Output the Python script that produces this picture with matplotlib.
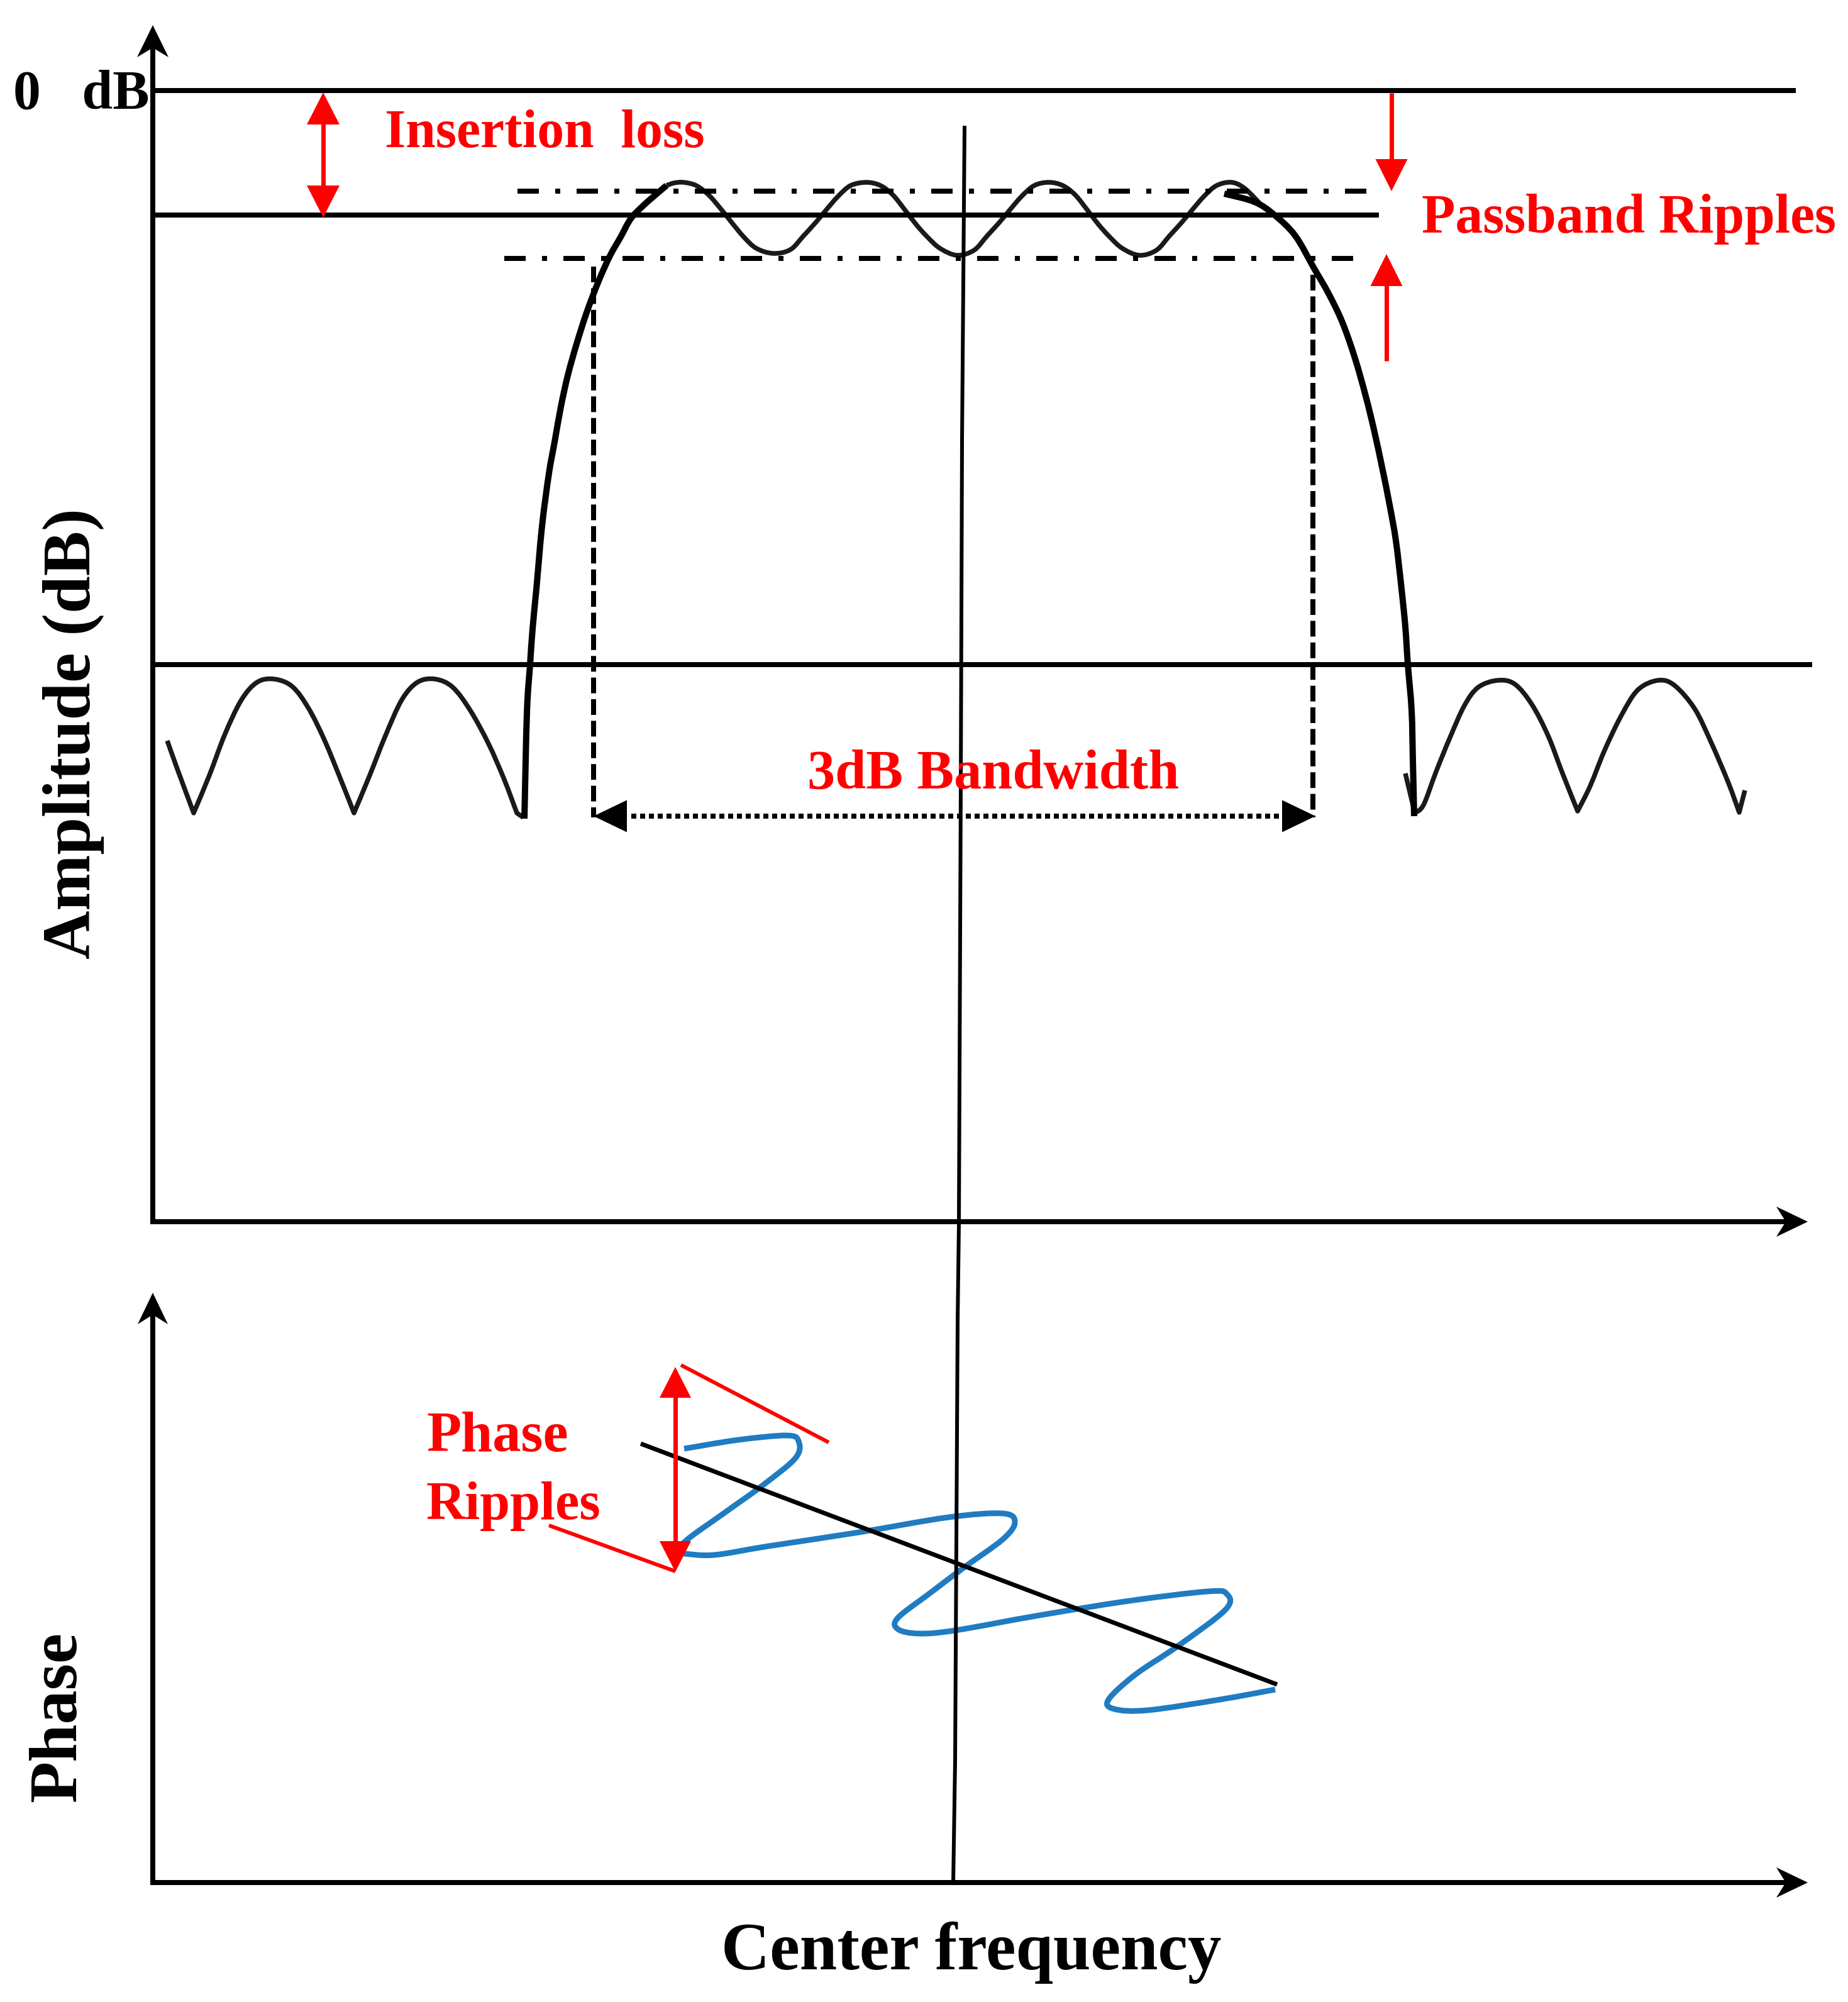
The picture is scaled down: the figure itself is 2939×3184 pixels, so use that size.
import matplotlib
matplotlib.use("Agg")
import matplotlib.pyplot as plt
from matplotlib.path import Path
from matplotlib.patches import PathPatch

plt.rcParams['font.family'] = ['Liberation Serif', 'DejaVu Sans']
plt.rcParams['font.weight'] = 'bold'
plt.rcParams['lines.scale_dashes'] = False

W = 2939
H = 3184
PX = 72 / 100  # one picture pixel in points

# curves (pixels of the reference)
lobes_left_x = [266, 282, 308, 333, 358, 384, 409, 436, 465, 491, 516, 542, 563, 588, 613, 639, 664, 692, 720, 748, 777, 802, 822, 832]
lobes_left_y = [1178, 1223, 1293, 1233, 1167, 1113, 1085, 1080, 1092, 1127, 1177, 1240, 1293, 1233, 1170, 1113, 1085, 1080, 1093, 1130, 1183, 1240, 1293, 1300]
lobes_left_cusps = [2, 12, 22]

lobes_right_x = [2235, 2250, 2264, 2284, 2306, 2329, 2351, 2382, 2409, 2436, 2462, 2485, 2509, 2529, 2552, 2579, 2605, 2637, 2663, 2695, 2721, 2748, 2766, 2775]
lobes_right_y = [1230, 1293, 1280, 1227, 1173, 1122, 1093, 1082, 1088, 1120, 1170, 1230, 1290, 1250, 1193, 1137, 1097, 1082, 1090, 1127, 1180, 1243, 1292, 1257]
lobes_right_cusps = [1, 12, 22]

skirt_left_x = [834, 838, 843, 847, 853, 862, 873, 882, 892, 903, 917, 933, 952, 970, 987, 1003, 1022, 1040, 1060]
skirt_left_y = [1302, 1133, 1057, 1000, 937, 837, 753, 703, 647, 597, 547, 497, 447, 407, 377, 348, 328, 312, 295]

ripple_x = [1060, 1072, 1087, 1107, 1127, 1147, 1163, 1183, 1203, 1230, 1257, 1278, 1298, 1313, 1333, 1353, 1378, 1400, 1420, 1440, 1457, 1475, 1495, 1522, 1549, 1570, 1590, 1605, 1625, 1645, 1668, 1690, 1710, 1730, 1747, 1765, 1785, 1812, 1839, 1860, 1880, 1895, 1915, 1935, 1959, 1980, 2005]
ripple_y = [295, 291, 290, 295, 310, 333, 353, 377, 395, 403, 397, 375, 353, 335, 312, 295, 290, 295, 310, 335, 357, 377, 395, 406, 398, 375, 353, 335, 312, 295, 290, 295, 310, 335, 357, 377, 395, 406, 398, 375, 353, 335, 312, 295, 290, 300, 325]

skirt_right_x = [1947, 1995, 2027, 2060, 2090, 2113, 2135, 2155, 2172, 2185, 2198, 2210, 2220, 2229, 2235, 2239, 2245, 2247, 2249]
skirt_right_y = [308, 321, 342, 375, 427, 467, 513, 570, 630, 683, 743, 803, 860, 937, 997, 1057, 1130, 1210, 1298]

center_x = [1534, 1530, 1528, 1525, 1523, 1519, 1516]
center_y = [200, 700, 1250, 1947, 2100, 2800, 2994]

phase_x = [1088, 1174, 1251, 1270, 1265, 1212, 1155, 1088, 1088, 1136, 1222, 1366, 1509, 1595, 1614, 1595, 1533, 1480, 1428, 1428, 1461, 1519, 1653, 1796, 1921, 1951, 1949, 1873, 1806, 1763, 1772, 1825, 1940, 2028]
phase_y = [2304, 2290, 2283, 2292, 2319, 2363, 2404, 2453, 2471, 2473, 2459, 2437, 2413, 2407, 2421, 2448, 2493, 2533, 2573, 2591, 2598, 2593, 2569, 2546, 2531, 2535, 2560, 2618, 2663, 2703, 2718, 2720, 2703, 2687]
phase_cusps = [8]

phase_fit_x = [1019, 2031]
phase_fit_y = [2296, 2679]

fig = plt.figure(figsize=(W / 100, H / 100), dpi=100)
ax = fig.add_axes([0, 0, 1, 1])
ax.set_xlim(0, W)
ax.set_ylim(H, 0)
ax.axis('off')


def line(x, y, px=8, color='black'):
    ax.plot(x, y, color=color, lw=px * PX, solid_capstyle='butt', solid_joinstyle='round')


def curve(x, y, px=8, color='black', cusps=()):
    # smooth bezier through the read points, sharp at the cusps
    verts = [(x[0], y[0])]
    codes = [Path.MOVETO]
    n = len(x)
    for i in range(n - 1):
        a = i - 1 if i > 0 and i not in cusps else i
        d = i + 2 if i + 2 < n and i + 1 not in cusps else i + 1
        verts.append((x[i] + (x[i + 1] - x[a]) / 6, y[i] + (y[i + 1] - y[a]) / 6))
        verts.append((x[i + 1] - (x[d] - x[i]) / 6, y[i + 1] - (y[d] - y[i]) / 6))
        verts.append((x[i + 1], y[i + 1]))
        codes += [Path.CURVE4, Path.CURVE4, Path.CURVE4]
    ax.add_patch(PathPatch(Path(verts, codes), fill=False, edgecolor=color, lw=px * PX, capstyle='butt', joinstyle='round'))


def head(tx, ty, dx, dy, length, width, color='black', notch=0):
    # arrow head as a filled shape, tip at tx,ty pointing along dx,dy
    bx, by = tx - dx * length, ty - dy * length
    nx, ny = -dy * width / 2, dx * width / 2
    xs = [tx, bx + nx, bx + dx * notch, bx - nx]
    ys = [ty, by + ny, by + dy * notch, by - ny]
    ax.fill(xs, ys, color=color, lw=0, zorder=4)


# axes
line([243, 243], [60, 1947])
head(243, 40, 0, -1, 51, 50, notch=15)
line([243, 2850], [1943, 1943])
head(2875, 1943, 1, 0, 50, 48, notch=15)
line([243, 243], [2080, 2998])
head(243, 2056, 0, -1, 50, 48, notch=15)
line([243, 2850], [2994, 2994])
head(2875, 2994, 1, 0, 50, 48, notch=15)

# horizontal levels
line([243, 2856], [144, 144])
line([240, 2193], [342, 342])
line([243, 2882], [1057, 1057])

# ripple limits
dash_dot = (0, [34 * PX, 26 * PX, 8 * PX, 26 * PX])
ax.plot([823, 2183], [303.5, 303.5], color='black', lw=8 * PX, ls=dash_dot, dash_capstyle='butt')
ax.plot([802, 2160], [411, 411], color='black', lw=8 * PX, ls=dash_dot, dash_capstyle='butt')

# 3 dB markers
dashed = (0, [25 * PX, 9.4 * PX])
ax.plot([944, 944], [424, 1300], color='black', lw=8 * PX, ls=dashed, dash_capstyle='butt')
ax.plot([2088, 2088], [437, 1300], color='black', lw=8 * PX, ls=dashed, dash_capstyle='butt')
dotted = (0, [8 * PX, 6 * PX])
ax.plot([1004, 2034], [1298, 1298], color='black', lw=8 * PX, ls=dotted, dash_capstyle='butt')
head(944, 1298, -1, 0, 53, 51)
head(2092, 1298, 1, 0, 53, 51)

# filter response
curve(lobes_left_x, lobes_left_y, px=7.5, color='#1a1a1a', cusps=lobes_left_cusps)
curve(lobes_right_x, lobes_right_y, px=7.5, color='#1a1a1a', cusps=lobes_right_cusps)
curve(skirt_left_x, skirt_left_y, px=10)
curve(ripple_x, ripple_y, px=7.5, color='#1a1a1a')
curve(skirt_right_x, skirt_right_y, px=10)

# center frequency
line(center_x, center_y, px=6)

# phase
curve(phase_x, phase_y, px=9, color='#1f7cc2', cusps=phase_cusps)
line(phase_fit_x, phase_fit_y, px=7)

# red arrows
line([514, 514], [190, 310], px=7, color='red')
head(514, 147, 0, -1, 51, 52, color='red')
head(514, 346, 0, 1, 51, 52, color='red')
line([2213, 2213], [148, 262], px=7, color='red')
head(2213, 304, 0, 1, 51, 51, color='red')
line([2205, 2205], [450, 574], px=7, color='red')
head(2205, 404, 0, -1, 51, 51, color='red')
line([1074, 1074], [2215, 2460], px=7, color='red')
head(1074, 2174, 0, -1, 49, 50, color='red')
head(1074, 2500, 0, 1, 49, 50, color='red')
line([1083, 1318], [2171, 2294], px=6, color='red')
line([873, 1074], [2426, 2499], px=6, color='red')

# labels
ax.text(21, 173, '0   dB', fontsize=63, color='black', va='baseline', ha='left')
ax.text(612, 234, 'Insertion  loss', fontsize=61.7, color='red', va='baseline', ha='left')
ax.text(2261, 370, 'Passband Ripples', fontsize=63, color='red', va='baseline', ha='left')
ax.text(1284, 1254, '3dB Bandwidth', fontsize=63.5, color='red', va='baseline', ha='left')
ax.text(678, 2308, 'Phase', fontsize=65, color='red', va='baseline', ha='left')
ax.text(678, 2416, 'Ripples', fontsize=62, color='red', va='baseline', ha='left')
ax.text(143, 1525, 'Amplitude (dB)', fontsize=77, color='black', rotation=90, rotation_mode='anchor', va='baseline', ha='left')
ax.text(120, 2866, 'Phase', fontsize=78, color='black', rotation=90, rotation_mode='anchor', va='baseline', ha='left')
ax.text(1147, 3132, 'Center frequency', fontsize=77, color='black', va='baseline', ha='left')

fig.savefig('out.png', dpi=100)
